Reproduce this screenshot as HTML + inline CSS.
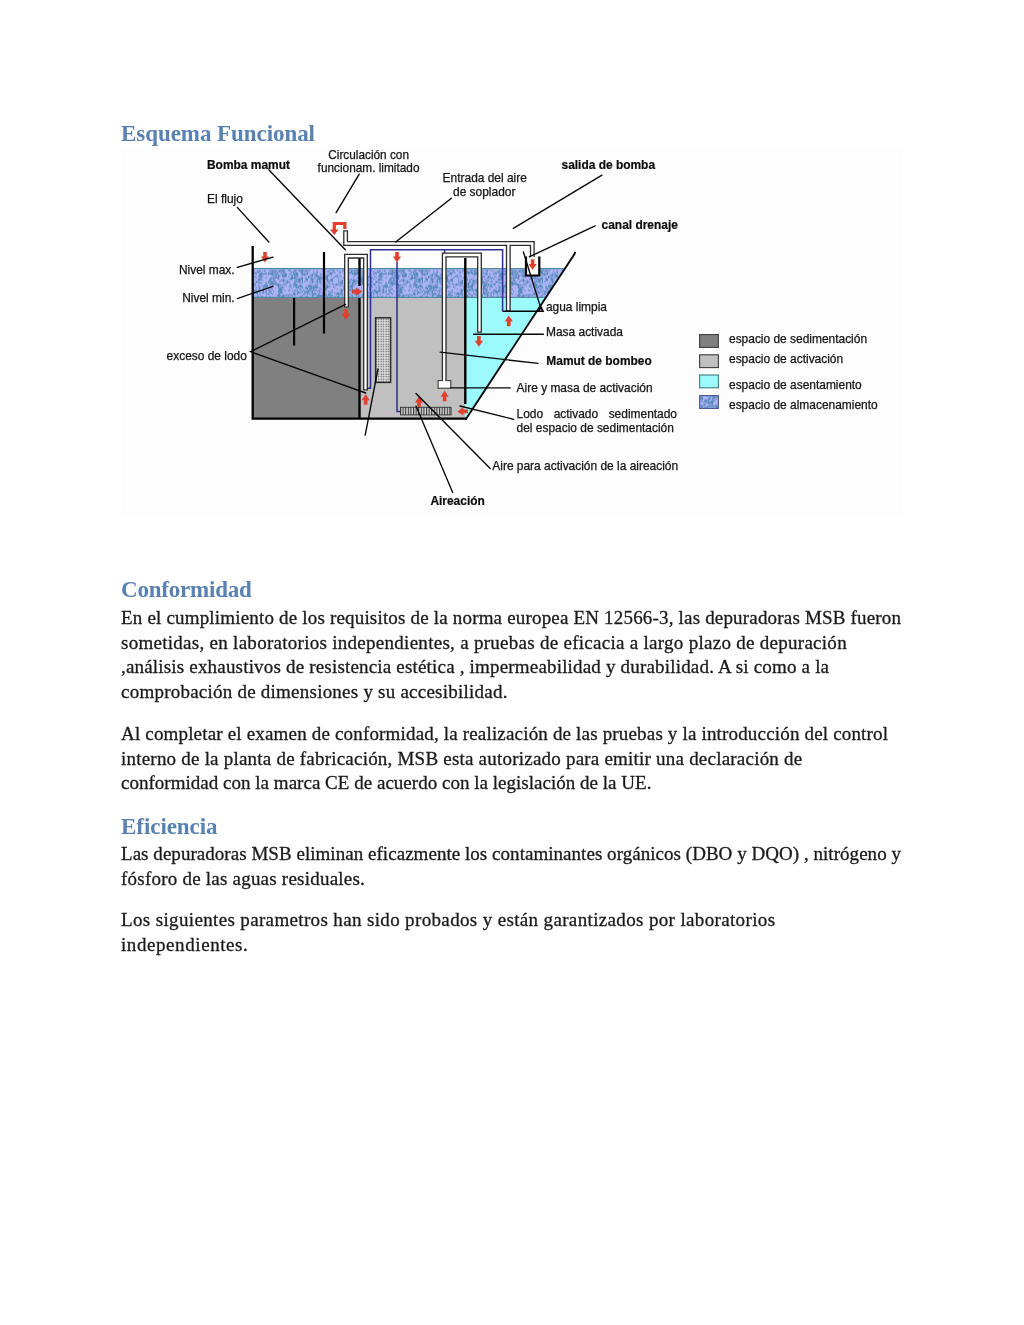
<!DOCTYPE html>
<html lang="es">
<head>
<meta charset="utf-8">
<title>Esquema Funcional</title>
<style>
html,body{margin:0;padding:0;background:#fff;}
body{width:1024px;height:1325px;position:relative;overflow:hidden;font-family:"Liberation Serif",serif;}
.h,.p{position:absolute;left:121px;white-space:nowrap;height:40px;line-height:40px;margin:0;}
.h{font-weight:bold;font-size:23px;color:#5982b3;}
.p{font-size:19px;color:#1a1a1a;-webkit-text-stroke:0.3px #1a1a1a;}
.h span,.p span{display:inline-block;}
svg{position:absolute;left:0;top:0;will-change:transform;filter:blur(0.45px);}
.h,.p{will-change:transform;}
svg text{font-family:"Liberation Sans",sans-serif;font-size:11.95px;fill:#141414;stroke:#141414;stroke-width:0.25px;}
svg text.b{font-weight:bold;fill:#0c0c0c;stroke:#0c0c0c;stroke-width:0.2px;}
</style>
</head>
<body>
<svg width="1024" height="560" viewBox="0 0 1024 560">
<defs>
<pattern id="speck" x="253" y="268.5" width="120.00" height="29" patternUnits="userSpaceOnUse">
<rect width="120.00" height="29" fill="#aeb2f7"/>
<path d="M6.25 1.82h1.25M11.25 1.82h1.25M17.50 1.82h3.75M22.50 1.82h1.25M26.25 1.82h6.25M35.00 1.82h2.50M41.25 1.82h2.50M45.00 1.82h6.25M52.50 1.82h2.50M56.25 1.82h1.25M68.75 1.82h1.25M76.25 1.82h1.25M78.75 1.82h2.50M83.75 1.82h1.25M90.00 1.82h1.25M97.50 1.82h2.50M101.25 1.82h3.75M110.00 1.82h1.25M112.50 1.82h2.50M117.50 1.82h1.25M0.00 3.08h1.25M3.75 3.08h3.75M8.75 3.08h1.25M11.25 3.08h1.25M16.25 3.08h1.25M18.75 3.08h1.25M21.25 3.08h2.50M25.00 3.08h2.50M28.75 3.08h2.50M37.50 3.08h1.25M40.00 3.08h2.50M47.50 3.08h2.50M51.25 3.08h2.50M55.00 3.08h1.25M60.00 3.08h1.25M63.75 3.08h1.25M70.00 3.08h1.25M73.75 3.08h2.50M80.00 3.08h1.25M86.25 3.08h1.25M88.75 3.08h1.25M93.75 3.08h2.50M97.50 3.08h1.25M100.00 3.08h2.50M103.75 3.08h2.50M107.50 3.08h2.50M113.75 3.08h1.25M1.25 4.33h2.50M5.00 4.33h1.25M7.50 4.33h1.25M12.50 4.33h1.25M15.00 4.33h1.25M17.50 4.33h5.00M23.75 4.33h1.25M27.50 4.33h1.25M30.00 4.33h2.50M37.50 4.33h1.25M40.00 4.33h1.25M42.50 4.33h2.50M47.50 4.33h2.50M53.75 4.33h1.25M61.25 4.33h1.25M63.75 4.33h1.25M76.25 4.33h3.75M81.25 4.33h1.25M86.25 4.33h1.25M93.75 4.33h6.25M101.25 4.33h5.00M110.00 4.33h1.25M112.50 4.33h1.25M0.00 5.58h1.25M2.50 5.58h1.25M6.25 5.58h7.50M15.00 5.58h5.00M22.50 5.58h2.50M28.75 5.58h1.25M31.25 5.58h2.50M36.25 5.58h1.25M40.00 5.58h5.00M48.75 5.58h6.25M58.75 5.58h2.50M62.50 5.58h1.25M67.50 5.58h1.25M70.00 5.58h1.25M76.25 5.58h2.50M91.25 5.58h2.50M95.00 5.58h1.25M98.75 5.58h6.25M108.75 5.58h1.25M111.25 5.58h3.75M116.25 5.58h1.25M6.25 6.83h2.50M18.75 6.83h5.00M25.00 6.83h2.50M28.75 6.83h5.00M37.50 6.83h2.50M41.25 6.83h3.75M48.75 6.83h1.25M51.25 6.83h1.25M57.50 6.83h2.50M61.25 6.83h3.75M67.50 6.83h1.25M71.25 6.83h1.25M73.75 6.83h2.50M77.50 6.83h1.25M83.75 6.83h1.25M86.25 6.83h1.25M101.25 6.83h1.25M105.00 6.83h3.75M1.25 8.07h1.25M5.00 8.07h5.00M22.50 8.07h1.25M25.00 8.07h1.25M28.75 8.07h5.00M35.00 8.07h1.25M38.75 8.07h1.25M41.25 8.07h1.25M43.75 8.07h1.25M55.00 8.07h2.50M58.75 8.07h1.25M62.50 8.07h5.00M72.50 8.07h2.50M81.25 8.07h3.75M87.50 8.07h1.25M92.50 8.07h1.25M105.00 8.07h1.25M108.75 8.07h3.75M115.00 8.07h2.50M2.50 9.32h1.25M7.50 9.32h1.25M12.50 9.32h1.25M17.50 9.32h8.75M37.50 9.32h6.25M47.50 9.32h2.50M52.50 9.32h1.25M55.00 9.32h1.25M57.50 9.32h1.25M61.25 9.32h1.25M65.00 9.32h5.00M72.50 9.32h2.50M80.00 9.32h1.25M85.00 9.32h1.25M90.00 9.32h1.25M92.50 9.32h1.25M100.00 9.32h1.25M103.75 9.32h1.25M106.25 9.32h3.75M113.75 9.32h2.50M117.50 9.32h2.50M0.00 10.57h1.25M5.00 10.57h3.75M16.25 10.57h2.50M20.00 10.57h1.25M25.00 10.57h1.25M30.00 10.57h1.25M36.25 10.57h3.75M41.25 10.57h1.25M43.75 10.57h6.25M52.50 10.57h2.50M57.50 10.57h3.75M63.75 10.57h5.00M70.00 10.57h1.25M72.50 10.57h2.50M77.50 10.57h2.50M93.75 10.57h1.25M97.50 10.57h1.25M105.00 10.57h1.25M107.50 10.57h2.50M111.25 10.57h1.25M117.50 10.57h1.25M5.00 11.82h2.50M8.75 11.82h1.25M16.25 11.82h1.25M20.00 11.82h2.50M27.50 11.82h5.00M33.75 11.82h1.25M42.50 11.82h1.25M45.00 11.82h2.50M48.75 11.82h1.25M52.50 11.82h2.50M57.50 11.82h2.50M63.75 11.82h1.25M66.25 11.82h1.25M73.75 11.82h2.50M77.50 11.82h2.50M85.00 11.82h1.25M88.75 11.82h1.25M93.75 11.82h1.25M96.25 11.82h1.25M98.75 11.82h5.00M105.00 11.82h5.00M113.75 11.82h2.50M2.50 13.07h2.50M15.00 13.07h5.00M21.25 13.07h1.25M26.25 13.07h1.25M30.00 13.07h1.25M33.75 13.07h2.50M41.25 13.07h6.25M48.75 13.07h1.25M51.25 13.07h1.25M58.75 13.07h2.50M62.50 13.07h2.50M66.25 13.07h2.50M73.75 13.07h1.25M76.25 13.07h1.25M78.75 13.07h1.25M85.00 13.07h1.25M87.50 13.07h2.50M96.25 13.07h1.25M100.00 13.07h2.50M103.75 13.07h2.50M107.50 13.07h3.75M112.50 13.07h1.25M117.50 13.07h2.50M2.50 14.32h1.25M5.00 14.32h3.75M12.50 14.32h1.25M15.00 14.32h1.25M17.50 14.32h3.75M22.50 14.32h1.25M32.50 14.32h2.50M36.25 14.32h1.25M41.25 14.32h1.25M46.25 14.32h1.25M48.75 14.32h1.25M56.25 14.32h1.25M58.75 14.32h1.25M63.75 14.32h1.25M66.25 14.32h1.25M71.25 14.32h1.25M75.00 14.32h1.25M86.25 14.32h3.75M95.00 14.32h2.50M98.75 14.32h2.50M102.50 14.32h1.25M105.00 14.32h2.50M108.75 14.32h3.75M113.75 14.32h1.25M0.00 15.57h2.50M12.50 15.57h1.25M16.25 15.57h10.00M30.00 15.57h2.50M40.00 15.57h3.75M61.25 15.57h1.25M63.75 15.57h1.25M67.50 15.57h1.25M72.50 15.57h1.25M76.25 15.57h1.25M78.75 15.57h2.50M82.50 15.57h3.75M88.75 15.57h1.25M91.25 15.57h5.00M98.75 15.57h1.25M101.25 15.57h1.25M105.00 15.57h5.00M111.25 15.57h2.50M115.00 15.57h1.25M117.50 15.57h1.25M1.25 16.82h1.25M5.00 16.82h1.25M8.75 16.82h1.25M11.25 16.82h3.75M18.75 16.82h1.25M23.75 16.82h5.00M32.50 16.82h1.25M36.25 16.82h2.50M41.25 16.82h3.75M46.25 16.82h2.50M55.00 16.82h5.00M62.50 16.82h1.25M73.75 16.82h1.25M82.50 16.82h1.25M86.25 16.82h2.50M91.25 16.82h2.50M95.00 16.82h1.25M97.50 16.82h3.75M110.00 16.82h6.25M117.50 16.82h1.25M6.25 18.07h1.25M10.00 18.07h5.00M16.25 18.07h2.50M25.00 18.07h1.25M28.75 18.07h1.25M36.25 18.07h1.25M40.00 18.07h1.25M42.50 18.07h1.25M45.00 18.07h5.00M52.50 18.07h1.25M55.00 18.07h3.75M60.00 18.07h5.00M71.25 18.07h6.25M80.00 18.07h1.25M90.00 18.07h1.25M92.50 18.07h7.50M110.00 18.07h2.50M116.25 18.07h3.75M2.50 19.32h1.25M5.00 19.32h2.50M10.00 19.32h1.25M12.50 19.32h1.25M15.00 19.32h1.25M25.00 19.32h6.25M37.50 19.32h1.25M42.50 19.32h3.75M48.75 19.32h1.25M52.50 19.32h2.50M56.25 19.32h8.75M66.25 19.32h1.25M71.25 19.32h3.75M81.25 19.32h1.25M91.25 19.32h1.25M95.00 19.32h1.25M97.50 19.32h2.50M110.00 19.32h2.50M113.75 19.32h1.25M6.25 20.57h1.25M10.00 20.57h1.25M17.50 20.57h2.50M26.25 20.57h2.50M46.25 20.57h2.50M52.50 20.57h2.50M56.25 20.57h2.50M60.00 20.57h1.25M67.50 20.57h1.25M70.00 20.57h3.75M83.75 20.57h1.25M87.50 20.57h1.25M90.00 20.57h2.50M96.25 20.57h1.25M98.75 20.57h1.25M102.50 20.57h1.25M110.00 20.57h3.75M116.25 20.57h1.25M0.00 21.82h3.75M5.00 21.82h2.50M8.75 21.82h2.50M12.50 21.82h1.25M15.00 21.82h2.50M25.00 21.82h5.00M31.25 21.82h1.25M35.00 21.82h2.50M38.75 21.82h1.25M41.25 21.82h3.75M50.00 21.82h1.25M55.00 21.82h2.50M58.75 21.82h5.00M65.00 21.82h2.50M72.50 21.82h1.25M78.75 21.82h1.25M87.50 21.82h2.50M93.75 21.82h11.25M110.00 21.82h1.25M112.50 21.82h2.50M1.25 23.07h6.25M10.00 23.07h1.25M12.50 23.07h1.25M16.25 23.07h1.25M20.00 23.07h1.25M25.00 23.07h3.75M45.00 23.07h1.25M47.50 23.07h2.50M51.25 23.07h5.00M57.50 23.07h2.50M63.75 23.07h1.25M66.25 23.07h1.25M75.00 23.07h1.25M77.50 23.07h1.25M87.50 23.07h2.50M91.25 23.07h3.75M102.50 23.07h5.00M110.00 23.07h1.25M112.50 23.07h1.25M118.75 23.07h1.25M0.00 24.32h1.25M2.50 24.32h2.50M8.75 24.32h2.50M12.50 24.32h1.25M16.25 24.32h2.50M26.25 24.32h3.75M40.00 24.32h2.50M43.75 24.32h3.75M51.25 24.32h1.25M53.75 24.32h2.50M58.75 24.32h1.25M61.25 24.32h1.25M66.25 24.32h1.25M68.75 24.32h1.25M76.25 24.32h1.25M78.75 24.32h1.25M81.25 24.32h1.25M83.75 24.32h2.50M87.50 24.32h1.25M91.25 24.32h1.25M95.00 24.32h1.25M100.00 24.32h1.25M103.75 24.32h2.50M110.00 24.32h2.50M113.75 24.32h2.50M117.50 24.32h1.25M0.00 25.57h1.25M3.75 25.57h1.25M6.25 25.57h1.25M13.75 25.57h2.50M18.75 25.57h1.25M25.00 25.57h2.50M36.25 25.57h1.25M40.00 25.57h2.50M43.75 25.57h1.25M50.00 25.57h2.50M53.75 25.57h1.25M56.25 25.57h1.25M58.75 25.57h5.00M65.00 25.57h1.25M70.00 25.57h1.25M72.50 25.57h1.25M75.00 25.57h2.50M82.50 25.57h7.50M91.25 25.57h1.25M96.25 25.57h1.25M101.25 25.57h3.75M106.25 25.57h1.25M110.00 25.57h5.00M117.50 25.57h1.25M23.75 26.82h3.75M28.75 26.82h7.50M37.50 26.82h2.50M41.25 26.82h1.25M48.75 26.82h1.25M58.75 26.82h2.50M63.75 26.82h6.25M72.50 26.82h1.25M75.00 26.82h5.00M85.00 26.82h1.25M88.75 26.82h1.25M92.50 26.82h2.50M97.50 26.82h2.50M102.50 26.82h1.25M105.00 26.82h1.25M108.75 26.82h1.25M113.75 26.82h2.50M117.50 26.82h1.25M0.00 28.07h1.25M3.75 28.07h2.50M7.50 28.07h2.50M12.50 28.07h1.25M16.25 28.07h1.25M25.00 28.07h2.50M28.75 28.07h2.50M35.00 28.07h1.25M46.25 28.07h2.50M52.50 28.07h2.50M58.75 28.07h1.25M63.75 28.07h6.25M73.75 28.07h1.25M77.50 28.07h1.25M81.25 28.07h1.25M83.75 28.07h2.50M91.25 28.07h1.25M93.75 28.07h2.50M98.75 28.07h1.25M105.00 28.07h1.25M108.75 28.07h1.25M113.75 28.07h1.25M117.50 28.07h1.25" stroke="#4683ad" stroke-width="1.25" fill="none" opacity="0.85"/>
</pattern>
<pattern id="dots" x="375" y="318" width="2.5" height="2.5" patternUnits="userSpaceOnUse">
<rect width="2.5" height="2.5" fill="#f0f0f0"/>
<rect x="0.5" y="0.5" width="1.4" height="1.4" fill="#4a4a4a"/>
</pattern>
<pattern id="bars" x="400" y="407" width="2.6" height="8" patternUnits="userSpaceOnUse">
<rect width="2.6" height="8" fill="#d8d8d8"/>
<rect x="0" y="0" width="1.1" height="8" fill="#333"/>
</pattern>
</defs>
<rect x="121" y="149" width="782" height="366" fill="#fdfdfd"/>
<!-- regions -->
<rect x="253" y="297.5" width="106.5" height="121" fill="#808080"/>
<rect x="359.5" y="297.5" width="106" height="121" fill="#c0c0c0"/>
<polygon points="465.3,297.5 546,297.5 466.6,418.4 465.3,418.4" fill="#9dfafc"/>
<polygon points="253,268.3 565,268.3 546,297.5 253,297.5" fill="url(#speck)"/>
<path d="M253 268.6H565M253 297.4H546" stroke="#538aa3" stroke-width="1.4" fill="none"/>
<!-- blue lines -->
<path d="M367 388.2H370.5V249.7H502.6V311M444.6 249.7V253M397 262V411.4H400.5" stroke="#2a2f92" stroke-width="1.5" fill="none"/>
<!-- walls -->
<path d="M252.7 246V418.6H466.8" stroke="#000" stroke-width="2.3" fill="none" stroke-linejoin="miter"/>
<path d="M465.8 419.2L574.2 254.6L575 252.6" stroke="#02080c" stroke-width="1.9" fill="none" stroke-linecap="round" stroke-linejoin="round"/>
<path d="M359.5 258V286M359.5 298V418" stroke="#000" stroke-width="2.4" fill="none"/>
<path d="M465.3 258V404" stroke="#000" stroke-width="2.4" fill="none"/>
<path d="M324 252V333.5M294.1 298V345.5" stroke="#000" stroke-width="2.2" fill="none"/>
<!-- dotted filter + diffuser -->
<rect x="375.6" y="317.8" width="15" height="64.6" fill="url(#dots)" stroke="#2a2a2a" stroke-width="1.5"/>
<rect x="400.5" y="407.3" width="50.6" height="7.6" fill="url(#bars)" stroke="#333" stroke-width="0.9"/>
<!-- pipes -->
<g fill="none" stroke-linejoin="miter">
<g stroke="#2c2c2c" stroke-width="4.9" stroke-linecap="butt">
<path d="M345.6 230.3V243.5H532.3V257"/>
<path d="M508.3 243.5V311.6"/>
<path d="M346.5 307.6V256.2H365.5V390.4"/>
<path d="M444.2 381V255H479.5V332.7"/>
</g>
<rect x="438.1" y="380.6" width="12.7" height="7.6" fill="#fff" stroke="#3a3a3a" stroke-width="1.1"/>
<g stroke="#fff" stroke-width="2.3" stroke-linecap="butt">
<path d="M345.6 231.4V243.5H532.3V257"/>
<path d="M508.3 243.5V310.4"/>
<path d="M346.5 306.4V256.2H365.5V389.2"/>
<path d="M444.2 382V255H479.5V331.5"/>
</g>
</g>
<!-- drain channel -->
<rect x="526" y="257" width="13" height="18" fill="#fff"/>
<path d="M526 256.5V275.5H539.3V256.5" stroke="#000" stroke-width="2.2" fill="none"/>
<!-- red arrows -->
<g fill="#e2402f">
<path transform="translate(265 257.3)" d="M-1.8 -5.3h3.6v4.6h2.3l-4.1 6l-4.1 -6h2.3z"/>
<path transform="translate(397 257.3)" d="M-1.8 -5.3h3.6v4.6h2.3l-4.1 6l-4.1 -6h2.3z"/>
<path transform="translate(346 314.5)" d="M-1.8 -5.3h3.6v4.6h2.3l-4.1 6l-4.1 -6h2.3z"/>
<path transform="translate(478.9 341.4)" d="M-1.8 -5.3h3.6v4.6h2.3l-4.1 6l-4.1 -6h2.3z"/>
<path transform="translate(532.6 264.6)" d="M-1.8 -5.3h3.6v4.6h2.3l-4.1 6l-4.1 -6h2.3z"/>
<path transform="translate(365.7 399.5) rotate(180)" d="M-1.8 -5.3h3.6v4.6h2.3l-4.1 6l-4.1 -6h2.3z"/>
<path transform="translate(419 401.8) rotate(180)" d="M-1.8 -5.3h3.6v4.6h2.3l-4.1 6l-4.1 -6h2.3z"/>
<path transform="translate(444.6 396) rotate(180)" d="M-1.8 -5.3h3.6v4.6h2.3l-4.1 6l-4.1 -6h2.3z"/>
<path transform="translate(508.8 320.9) rotate(180)" d="M-1.8 -5.3h3.6v4.6h2.3l-4.1 6l-4.1 -6h2.3z"/>
<path transform="translate(357 291.6) rotate(-90)" d="M-1.8 -5.3h3.6v4.6h2.3l-4.1 6l-4.1 -6h2.3z"/>
<path transform="translate(462.6 411.4) rotate(90)" d="M-1.8 -5.3h3.6v4.6h2.3l-4.1 6l-4.1 -6h2.3z"/>
<path d="M332.7 221.9H346.5V229H343.2V225.1H335.9V229.6H338.5L334.3 234.9L330 229.6H332.7Z"/>
</g>
<!-- leader lines -->
<g stroke="#050505" stroke-width="1.35" fill="none" stroke-linecap="round">
<path d="M237.3 207.4L268.8 242"/>
<path d="M268.8 169.7L345.3 249.8"/>
<path d="M359.2 174.2L336.1 212.7"/>
<path d="M451.4 198.2L395.7 242"/>
<path d="M602 175.2L513.3 228.3"/>
<path d="M595.1 225.9L529.3 256.8"/>
<path d="M237.3 267.3L273 257.2"/>
<path d="M237.3 298.6L273 286.3"/>
<path d="M345.5 304.4L250.6 351.7L365.7 393"/>
<path d="M378 368.9L365.2 435.1"/>
<path d="M523.4 252L541.3 309.6"/>
<path d="M503 311.2H543L540.6 306.4L538.6 311" stroke-width="1.6"/>
<path d="M473.6 334.2H543.4"/>
<path d="M440.2 352.2L538 363.4"/>
<path d="M450.8 387.8H510.2"/>
<path d="M460 406L513.7 419.3"/>
<path d="M416 393.5L490.2 468.5"/>
<path d="M416 406L452.7 492.5"/>
</g>
<!-- labels -->
<text class="b" x="207" y="169.2">Bomba mamut</text>
<text x="207" y="203.2">El flujo</text>
<text x="328.3" y="158.5" textLength="80.7" lengthAdjust="spacingAndGlyphs">Circulación con</text>
<text x="317.6" y="171.9" textLength="101.9" lengthAdjust="spacingAndGlyphs">funcionam. limitado</text>
<text x="442.6" y="181.8">Entrada del aire</text>
<text x="453" y="195.6">de soplador</text>
<text class="b" x="561.5" y="168.7">salida de bomba</text>
<text class="b" x="601.6" y="228.7">canal drenaje</text>
<text x="178.9" y="273.8">Nivel max.</text>
<text x="182.2" y="302.2">Nivel min.</text>
<text x="166.6" y="360.1">exceso de lodo</text>
<text x="545.9" y="310.5">agua limpia</text>
<text x="546" y="336.0">Masa activada</text>
<text class="b" x="546.3" y="365.4">Mamut de bombeo</text>
<text x="516.6" y="391.7">Aire y masa de activación</text>
<text x="516.6" y="418.0" word-spacing="7.2">Lodo activado sedimentado</text>
<text x="516.6" y="432.2">del espacio de sedimentación</text>
<text x="492.3" y="470.0">Aire para activación de la aireación</text>
<text class="b" x="430.4" y="504.8">Aireación</text>
<!-- legend -->
<g stroke="#3c3c3c" stroke-width="1.1">
<rect x="699.6" y="334.6" width="18.8" height="12.8" fill="#808080"/>
<rect x="699.6" y="354.8" width="18.8" height="12.8" fill="#c0c0c0"/>
<rect x="699.6" y="375" width="18.8" height="12.8" fill="#9dfafc" stroke="#3d7f85"/>
<rect x="699.6" y="395.6" width="18.8" height="12.8" fill="url(#speck)" stroke="#4a5590"/>
</g>
<text x="729" y="343.2">espacio de sedimentación</text>
<text x="729" y="363.0">espacio de activación</text>
<text x="729" y="389.4">espacio de asentamiento</text>
<text x="729" y="408.6">espacio de almacenamiento</text>
</svg>

<div class="h" style="top:113.5px;letter-spacing:-0.057px">Esquema Funcional</div>
<div class="h" style="top:570.3px;letter-spacing:-0.210px">Conformidad</div>
<div class="h" style="top:807.1px;letter-spacing:-0.054px">Eficiencia</div>
<div class="p" style="top:597.9px;letter-spacing:0.181px">En el cumplimiento de los requisitos de la norma europea EN 12566-3, las depuradoras MSB fueron</div>
<div class="p" style="top:622.6px;letter-spacing:0.279px">sometidas, en laboratorios independientes, a pruebas de eficacia a largo plazo de depuración</div>
<div class="p" style="top:647.2px;letter-spacing:0.183px">,análisis exhaustivos de resistencia estética , impermeabilidad y durabilidad. A si como a la</div>
<div class="p" style="top:671.8px;letter-spacing:0.233px">comprobación de dimensiones y su accesibilidad.</div>
<div class="p" style="top:713.9px;letter-spacing:0.173px">Al completar el examen de conformidad, la realización de las pruebas y la introducción del control</div>
<div class="p" style="top:738.6px;letter-spacing:0.216px">interno de la planta de fabricación, MSB esta autorizado para emitir una declaración de</div>
<div class="p" style="top:763.4px;letter-spacing:0.019px">conformidad con la marca CE de acuerdo con la legislación de la UE.</div>
<div class="p" style="top:833.8px;letter-spacing:0.039px">Las depuradoras MSB eliminan eficazmente los contaminantes orgánicos (DBO y DQO) , nitrógeno y</div>
<div class="p" style="top:858.6px;letter-spacing:0.223px">fósforo de las aguas residuales.</div>
<div class="p" style="top:899.8px;letter-spacing:0.353px">Los siguientes parametros han sido probados y están garantizados por laboratorios</div>
<div class="p" style="top:924.5px;letter-spacing:0.578px">independientes.</div>
</body>
</html>
